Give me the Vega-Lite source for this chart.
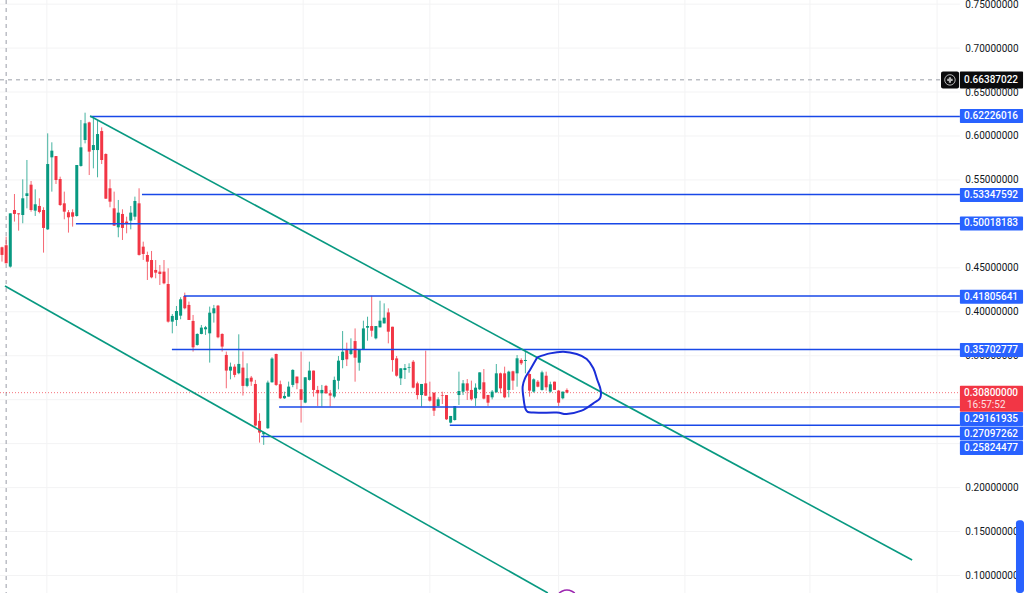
{"$schema":"https://vega.github.io/schema/vega-lite/v6.json","width":1024,"height":593,"autosize":{"type":"none"},"padding":0,"background":"#ffffff","view":{"stroke":null},
"datasets":{
"candles":[
{"i":0,"o":0.4734,"h":0.4741,"l":0.4571,"c":0.4647},{"i":1,"o":0.4757,"h":0.4855,"l":0.4552,"c":0.4552},{"i":2,"o":0.4514,"h":0.512,"l":0.4503,"c":0.512},{"i":3,"o":0.5158,"h":0.534,"l":0.5026,"c":0.5113},{"i":4,"o":0.512,"h":0.512,"l":0.4923,"c":0.5109},{"i":5,"o":0.5101,"h":0.5507,"l":0.5007,"c":0.5291},{"i":6,"o":0.5317,"h":0.5727,"l":0.5177,"c":0.5348},{"i":7,"o":0.5446,"h":0.5488,"l":0.5139,"c":0.5158},{"i":8,"o":0.5151,"h":0.5393,"l":0.509,"c":0.5223},{"i":9,"o":0.5204,"h":0.5291,"l":0.512,"c":0.5136},{"i":10,"o":0.5158,"h":0.5189,"l":0.4673,"c":0.4954},{"i":11,"o":0.4938,"h":0.603,"l":0.4931,"c":0.5681},{"i":12,"o":0.5757,"h":0.5928,"l":0.5367,"c":0.5833},{"i":13,"o":0.5772,"h":0.5772,"l":0.5454,"c":0.5499},{"i":14,"o":0.5511,"h":0.5537,"l":0.5204,"c":0.5215},{"i":15,"o":0.5234,"h":0.5367,"l":0.5052,"c":0.5139},{"i":16,"o":0.5132,"h":0.5158,"l":0.4901,"c":0.5075},{"i":17,"o":0.5132,"h":0.5166,"l":0.4969,"c":0.5082},{"i":18,"o":0.509,"h":0.567,"l":0.5082,"c":0.567},{"i":19,"o":0.5659,"h":0.6182,"l":0.5651,"c":0.5871},{"i":20,"o":0.5954,"h":0.6265,"l":0.5916,"c":0.6144},{"i":21,"o":0.6155,"h":0.6163,"l":0.5556,"c":0.5822},{"i":22,"o":0.584,"h":0.622,"l":0.5632,"c":0.5897},{"i":23,"o":0.584,"h":0.6182,"l":0.553,"c":0.6022},{"i":24,"o":0.6056,"h":0.6098,"l":0.5681,"c":0.5727},{"i":25,"o":0.5795,"h":0.5803,"l":0.5283,"c":0.5287},{"i":26,"o":0.5405,"h":0.5507,"l":0.5189,"c":0.5253},{"i":27,"o":0.5177,"h":0.5367,"l":0.4976,"c":0.498},{"i":28,"o":0.4961,"h":0.5272,"l":0.4848,"c":0.5128},{"i":29,"o":0.5113,"h":0.5166,"l":0.4817,"c":0.4954},{"i":30,"o":0.5026,"h":0.5082,"l":0.4893,"c":0.4999},{"i":31,"o":0.5037,"h":0.5204,"l":0.4938,"c":0.5128},{"i":32,"o":0.5082,"h":0.531,"l":0.5045,"c":0.5261},{"i":33,"o":0.5234,"h":0.5405,"l":0.4639,"c":0.4647},{"i":34,"o":0.4741,"h":0.4798,"l":0.459,"c":0.4658},{"i":35,"o":0.4646,"h":0.4684,"l":0.4362,"c":0.457},{"i":36,"o":0.4589,"h":0.4692,"l":0.4381,"c":0.4392},{"i":37,"o":0.4476,"h":0.4589,"l":0.4381,"c":0.4445},{"i":38,"o":0.4457,"h":0.4532,"l":0.4305,"c":0.443},{"i":39,"o":0.4457,"h":0.4589,"l":0.4313,"c":0.4324},{"i":40,"o":0.4316,"h":0.4495,"l":0.3877,"c":0.3888},{"i":41,"o":0.3888,"h":0.3975,"l":0.3755,"c":0.3953},{"i":42,"o":0.3907,"h":0.4066,"l":0.3839,"c":0.4009},{"i":43,"o":0.3956,"h":0.4165,"l":0.3915,"c":0.4142},{"i":44,"o":0.418,"h":0.4218,"l":0.4028,"c":0.404},{"i":45,"o":0.4078,"h":0.4116,"l":0.3907,"c":0.3907},{"i":46,"o":0.3896,"h":0.3964,"l":0.3547,"c":0.3596},{"i":47,"o":0.3623,"h":0.3755,"l":0.3615,"c":0.3748},{"i":48,"o":0.3748,"h":0.385,"l":0.3744,"c":0.382},{"i":49,"o":0.3801,"h":0.3839,"l":0.3737,"c":0.3824},{"i":50,"o":0.3755,"h":0.4059,"l":0.3422,"c":0.399},{"i":51,"o":0.3983,"h":0.4078,"l":0.3877,"c":0.404},{"i":52,"o":0.407,"h":0.4078,"l":0.3699,"c":0.371},{"i":53,"o":0.3748,"h":0.3755,"l":0.3547,"c":0.3604},{"i":54,"o":0.3509,"h":0.3547,"l":0.313,"c":0.3331},{"i":55,"o":0.3331,"h":0.3422,"l":0.3232,"c":0.3376},{"i":56,"o":0.3376,"h":0.3403,"l":0.3255,"c":0.3282},{"i":57,"o":0.3301,"h":0.3744,"l":0.3289,"c":0.3407},{"i":58,"o":0.3365,"h":0.3547,"l":0.3047,"c":0.3157},{"i":59,"o":0.3157,"h":0.3414,"l":0.3142,"c":0.3244},{"i":60,"o":0.3251,"h":0.327,"l":0.3157,"c":0.3206},{"i":61,"o":0.3179,"h":0.3225,"l":0.2694,"c":0.2706},{"i":62,"o":0.2759,"h":0.2846,"l":0.2512,"c":0.2626},{"i":63,"o":0.2607,"h":0.2637,"l":0.2486,"c":0.263},{"i":64,"o":0.2675,"h":0.3217,"l":0.2668,"c":0.3195},{"i":65,"o":0.3198,"h":0.3483,"l":0.3195,"c":0.3468},{"i":66,"o":0.352,"h":0.3524,"l":0.3157,"c":0.3168},{"i":67,"o":0.3176,"h":0.3217,"l":0.3009,"c":0.3016},{"i":68,"o":0.3016,"h":0.3092,"l":0.3009,"c":0.3043},{"i":69,"o":0.3035,"h":0.3206,"l":0.3035,"c":0.3149},{"i":70,"o":0.3168,"h":0.3346,"l":0.3142,"c":0.3339},{"i":71,"o":0.3263,"h":0.3263,"l":0.3119,"c":0.3187},{"i":72,"o":0.3119,"h":0.3547,"l":0.274,"c":0.2998},{"i":73,"o":0.2967,"h":0.3255,"l":0.296,"c":0.3255},{"i":74,"o":0.3225,"h":0.3433,"l":0.3217,"c":0.3331},{"i":75,"o":0.3331,"h":0.3331,"l":0.3035,"c":0.3111},{"i":76,"o":0.3111,"h":0.3157,"l":0.2929,"c":0.3073},{"i":77,"o":0.3073,"h":0.3168,"l":0.2922,"c":0.3111},{"i":78,"o":0.3157,"h":0.3168,"l":0.3066,"c":0.3073},{"i":79,"o":0.3073,"h":0.3111,"l":0.2922,"c":0.3047},{"i":80,"o":0.3035,"h":0.3263,"l":0.3016,"c":0.3225},{"i":81,"o":0.3216,"h":0.3497,"l":0.3118,"c":0.3444},{"i":82,"o":0.3451,"h":0.3781,"l":0.3357,"c":0.3546},{"i":83,"o":0.3565,"h":0.3649,"l":0.3383,"c":0.3459},{"i":84,"o":0.352,"h":0.3698,"l":0.3508,"c":0.3573},{"i":85,"o":0.3667,"h":0.3811,"l":0.3205,"c":0.3478},{"i":86,"o":0.3421,"h":0.3577,"l":0.333,"c":0.3577},{"i":87,"o":0.3577,"h":0.3899,"l":0.3565,"c":0.3811},{"i":88,"o":0.3819,"h":0.3944,"l":0.3671,"c":0.3838},{"i":89,"o":0.3838,"h":0.4183,"l":0.3717,"c":0.3785},{"i":90,"o":0.3698,"h":0.3838,"l":0.3686,"c":0.3838},{"i":91,"o":0.3823,"h":0.4126,"l":0.3823,"c":0.3899},{"i":92,"o":0.3868,"h":0.4096,"l":0.3868,"c":0.3933},{"i":93,"o":0.3993,"h":0.4039,"l":0.3641,"c":0.3774},{"i":94,"o":0.383,"h":0.383,"l":0.3319,"c":0.3451},{"i":95,"o":0.347,"h":0.3497,"l":0.3262,"c":0.3273},{"i":96,"o":0.3243,"h":0.3357,"l":0.3167,"c":0.3357},{"i":97,"o":0.3338,"h":0.3406,"l":0.3235,"c":0.336},{"i":98,"o":0.3364,"h":0.3414,"l":0.3307,"c":0.3372},{"i":99,"o":0.3432,"h":0.3451,"l":0.3129,"c":0.3137},{"i":100,"o":0.3186,"h":0.3205,"l":0.3004,"c":0.3053},{"i":101,"o":0.3053,"h":0.3179,"l":0.2921,"c":0.3179},{"i":102,"o":0.3186,"h":0.3558,"l":0.3042,"c":0.3046},{"i":103,"o":0.3034,"h":0.3205,"l":0.2978,"c":0.2989},{"i":104,"o":0.308,"h":0.308,"l":0.2815,"c":0.2875},{"i":105,"o":0.2928,"h":0.3027,"l":0.2921,"c":0.3004},{"i":106,"o":0.3053,"h":0.3091,"l":0.2951,"c":0.3046},{"i":107,"o":0.3053,"h":0.3053,"l":0.2769,"c":0.2777},{"i":108,"o":0.2739,"h":0.2815,"l":0.2731,"c":0.2815},{"i":109,"o":0.2769,"h":0.2928,"l":0.2762,"c":0.2928},{"i":110,"o":0.3053,"h":0.3319,"l":0.294,"c":0.3099},{"i":111,"o":0.3091,"h":0.3224,"l":0.3053,"c":0.3186},{"i":112,"o":0.3186,"h":0.3235,"l":0.2997,"c":0.3103},{"i":113,"o":0.3111,"h":0.3217,"l":0.2989,"c":0.3004},{"i":114,"o":0.3016,"h":0.3186,"l":0.2929,"c":0.3137},{"i":115,"o":0.3118,"h":0.3311,"l":0.311,"c":0.3311},{"i":116,"o":0.3198,"h":0.3349,"l":0.3004,"c":0.3012},{"i":117,"o":0.3054,"h":0.3054,"l":0.2929,"c":0.2966},{"i":118,"o":0.3027,"h":0.311,"l":0.3004,"c":0.3092},{"i":119,"o":0.3084,"h":0.3406,"l":0.308,"c":0.33},{"i":120,"o":0.33,"h":0.3308,"l":0.3073,"c":0.3129},{"i":121,"o":0.33,"h":0.3376,"l":0.3016,"c":0.3027},{"i":122,"o":0.3111,"h":0.333,"l":0.3027,"c":0.3319},{"i":123,"o":0.3323,"h":0.333,"l":0.3111,"c":0.3217},{"i":124,"o":0.33,"h":0.3508,"l":0.3148,"c":0.3471},{"i":125,"o":0.3452,"h":0.3471,"l":0.3395,"c":0.3414},{"i":126,"o":0.344,"h":0.3558,"l":0.33,"c":0.3452},{"i":127,"o":0.3292,"h":0.33,"l":0.3035,"c":0.3103},{"i":128,"o":0.3092,"h":0.3243,"l":0.308,"c":0.3232},{"i":129,"o":0.3205,"h":0.3224,"l":0.3141,"c":0.3148},{"i":130,"o":0.3111,"h":0.333,"l":0.3103,"c":0.3311},{"i":131,"o":0.3273,"h":0.3319,"l":0.3103,"c":0.3141},{"i":132,"o":0.3092,"h":0.3205,"l":0.308,"c":0.3175},{"i":133,"o":0.3205,"h":0.3205,"l":0.3111,"c":0.3111},{"i":134,"o":0.3103,"h":0.3111,"l":0.2929,"c":0.2966},{"i":135,"o":0.3016,"h":0.3092,"l":0.3004,"c":0.3092},{"i":136,"o":0.3111,"h":0.3129,"l":0.3073,"c":0.308}
],
"levels":[{"s":21.2,"e":230.6,"p":0.62226},{"s":33.7,"e":230.6,"p":0.53348},{"s":17.8,"e":230.6,"p":0.50018},{"s":43.8,"e":230.6,"p":0.41806},{"s":40.9,"e":230.6,"p":0.35703},{"s":66.7,"e":230.6,"p":0.29162},{"s":107.8,"e":230.6,"p":0.27097},{"s":62.4,"e":230.6,"p":0.25824}],
"badges":[{"t":"0.62226016","p":0.6227},{"t":"0.53347592","p":0.5329},{"t":"0.50018183","p":0.5005},{"t":"0.41805641","p":0.4171},{"t":"0.35702777","p":0.3565},{"t":"0.29161935","p":0.278},{"t":"0.27097262","p":0.2615},{"t":"0.25824477","p":0.245}],
"trend":[{"k":"a","i":21.2,"v":0.6228},{"k":"a","i":219.1,"v":0.1176},{"k":"b","i":0.72,"v":0.4293},{"k":"b","i":131.4,"v":0.0801}],
"ink":[{"n":1,"i":128.87,"v":0.3482},{"n":2,"i":131.92,"v":0.3527},{"n":3,"i":135.13,"v":0.3546},{"n":4,"i":138.34,"v":0.352},{"n":5,"i":140.75,"v":0.3463},{"n":6,"i":142.35,"v":0.3357},{"n":7,"i":143.32,"v":0.3224},{"n":8,"i":144.12,"v":0.311},{"n":9,"i":143.96,"v":0.3016},{"n":10,"i":142.35,"v":0.2959},{"n":11,"i":139.54,"v":0.2875},{"n":12,"i":135.93,"v":0.2837},{"n":13,"i":133.53,"v":0.2853},{"n":14,"i":127.91,"v":0.2853},{"n":15,"i":126.14,"v":0.2883},{"n":16,"i":125.5,"v":0.3035},{"n":17,"i":125.34,"v":0.3148},{"n":18,"i":125.9,"v":0.3243},{"n":19,"i":127.11,"v":0.3338},{"n":20,"i":128.87,"v":0.3482}],
"arc":[{"n":1,"i":134.1,"v":0.0801},{"n":2,"i":134.8,"v":0.0821},{"n":3,"i":136,"v":0.0835},{"n":4,"i":137.2,"v":0.0821},{"n":5,"i":137.9,"v":0.0801}],
"prices":[{"y":0.1},{"y":0.15},{"y":0.2},{"y":0.25},{"y":0.3},{"y":0.35},{"y":0.4},{"y":0.45},{"y":0.5},{"y":0.55},{"y":0.6},{"y":0.65},{"y":0.7},{"y":0.75}],
"times":[{"i":10.8},{"i":42.1},{"i":72.5},{"i":103},{"i":134},{"i":164.4},{"i":194.5},{"i":225.1}]
},
"layer":[
{"data":{"name":"prices"},"mark":{"type":"rule","color":"#f3f3f4","strokeWidth":1},"encoding":{
"y":{"field":"y","type":"quantitative","scale":{"domain":[0.0801,0.7547],"nice":false,"zero":false,"padding":0},"title":null,"axis":{"orient":"right","values":[0.1,0.15,0.2,0.35,0.4,0.45,0.5,0.55,0.6,0.65,0.7,0.75],"format":".8f","grid":false,"domain":false,"ticks":false,"tickSize":0,"labelAlign":"right","labelPadding":-6,"labelFont":"Roboto","labelFontSize":10,"labelColor":"#131722","labelOverlap":false,"labelFlush":false,"labelBound":false}},
"x":{"datum":-0.48,"type":"quantitative","scale":{"domain":[-0.48,246.03],"nice":false,"zero":false,"padding":0},"axis":null},
"x2":{"datum":230.6}}},
{"data":{"name":"times"},"mark":{"type":"rule","color":"#f3f3f4","strokeWidth":1},"encoding":{"x":{"field":"i","type":"quantitative"}}},
{"data":{"values":[{"i":1}]},"mark":{"type":"rule","color":"#9a9ea8","strokeWidth":1,"strokeDash":[4,4]},"encoding":{"x":{"field":"i","type":"quantitative"}}},
{"data":{"values":[{"p":0.66387}]},"mark":{"type":"rule","color":"#9a9ea8","strokeWidth":1,"strokeDash":[4,4]},"encoding":{"y":{"field":"p","type":"quantitative"},"x":{"datum":-0.48,"type":"quantitative"},"x2":{"datum":230.6}}},
{"data":{"values":[{"p":0.308}]},"mark":{"type":"rule","color":"#f23645","opacity":0.7,"strokeWidth":1,"strokeDash":[1,2]},"encoding":{"y":{"field":"p","type":"quantitative"},"x":{"datum":-0.48,"type":"quantitative"},"x2":{"datum":230.6}}},
{"data":{"name":"candles"},"mark":{"type":"rule","strokeWidth":1,"opacity":0.75},"encoding":{"x":{"field":"i","type":"quantitative"},"y":{"field":"l","type":"quantitative"},"y2":{"field":"h"},"color":{"condition":{"test":"datum.c>=datum.o","value":"#089981"},"value":"#f23645"}}},
{"data":{"name":"candles"},"mark":{"type":"rule","strokeWidth":3},"encoding":{"x":{"field":"i","type":"quantitative"},"y":{"field":"o","type":"quantitative"},"y2":{"field":"c"},"color":{"condition":{"test":"datum.c>=datum.o","value":"#089981"},"value":"#f23645"}}},
{"data":{"name":"levels"},"mark":{"type":"rule","color":"#1848e8","strokeWidth":1.5},"encoding":{"y":{"field":"p","type":"quantitative"},"x":{"field":"s","type":"quantitative"},"x2":{"field":"e"}}},
{"data":{"name":"trend"},"mark":{"type":"line","color":"#089981","strokeWidth":1.6,"clip":true},"encoding":{"x":{"field":"i","type":"quantitative"},"y":{"field":"v","type":"quantitative"},"detail":{"field":"k"}}},
{"data":{"name":"ink"},"mark":{"type":"line","color":"#1a2ed8","strokeWidth":2,"interpolate":"cardinal"},"encoding":{"x":{"field":"i","type":"quantitative"},"y":{"field":"v","type":"quantitative"},"order":{"field":"n"}}},
{"data":{"name":"arc"},"mark":{"type":"line","color":"#9c27b0","strokeWidth":1.5,"interpolate":"monotone"},"encoding":{"x":{"field":"i","type":"quantitative"},"y":{"field":"v","type":"quantitative"},"order":{"field":"n"}}},
{"data":{"name":"badges"},"mark":{"type":"bar","color":"#2962ff","size":14,"cornerRadius":1,"orient":"horizontal"},"encoding":{"y":{"field":"p","type":"quantitative"},"x":{"datum":230.6,"type":"quantitative"},"x2":{"datum":245.8}}},
{"data":{"values":[{"p":0.6638}]},"mark":{"type":"bar","color":"#0b0b0d","size":17,"cornerRadius":1,"orient":"horizontal"},"encoding":{"y":{"field":"p","type":"quantitative"},"x":{"datum":230.6,"type":"quantitative"},"x2":{"datum":245.8}}},
{"data":{"values":[{"p":0.6638}]},"mark":{"type":"bar","color":"#0b0b0d","size":17,"cornerRadius":2,"orient":"horizontal"},"encoding":{"y":{"field":"p","type":"quantitative"},"x":{"datum":226.05,"type":"quantitative"},"x2":{"datum":230.4}}},
{"data":{"values":[{"i":228.2,"p":0.6638}]},"mark":{"type":"point","shape":"circle","filled":false,"color":"#ffffff","strokeWidth":1,"size":110},"encoding":{"x":{"field":"i","type":"quantitative"},"y":{"field":"p","type":"quantitative"}}},
{"data":{"values":[{"i":228.2,"p":0.6638}]},"mark":{"type":"point","shape":"cross","filled":true,"color":"#ffffff","size":30},"encoding":{"x":{"field":"i","type":"quantitative"},"y":{"field":"p","type":"quantitative"}}},
{"data":{"values":[{"p":0.3011}]},"mark":{"type":"bar","color":"#f23645","size":26,"cornerRadius":1,"orient":"horizontal"},"encoding":{"y":{"field":"p","type":"quantitative"},"x":{"datum":230.6,"type":"quantitative"},"x2":{"datum":245.8}}},
{"data":{"name":"badges"},"mark":{"type":"text","align":"right","baseline":"middle","font":"Roboto","fontSize":10,"fontWeight":500,"color":"#ffffff"},"encoding":{"y":{"field":"p","type":"quantitative"},"x":{"datum":244.6,"type":"quantitative"},"text":{"field":"t"}}},
{"data":{"values":[{"t":"0.66387022","p":0.6638},{"t":"0.30800000","p":0.3076}]},"mark":{"type":"text","align":"right","baseline":"middle","font":"Roboto","fontSize":10,"fontWeight":500,"color":"#ffffff"},"encoding":{"y":{"field":"p","type":"quantitative"},"x":{"datum":244.6,"type":"quantitative"},"text":{"field":"t"}}},
{"data":{"values":[{"t":"16:57:52","p":0.2939}]},"mark":{"type":"text","align":"left","baseline":"middle","font":"Roboto","fontSize":10,"color":"#ffffff","opacity":0.85},"encoding":{"y":{"field":"p","type":"quantitative"},"x":{"datum":232.3,"type":"quantitative"},"text":{"field":"t"}}},
{"data":{"values":[{"top":0.163,"bot":0.0801}]},"mark":{"type":"rect","color":"#2962ff","cornerRadius":3},"encoding":{"y":{"field":"top","type":"quantitative"},"y2":{"field":"bot"},"x":{"datum":244.1,"type":"quantitative"},"x2":{"datum":246.03}}}
]}
